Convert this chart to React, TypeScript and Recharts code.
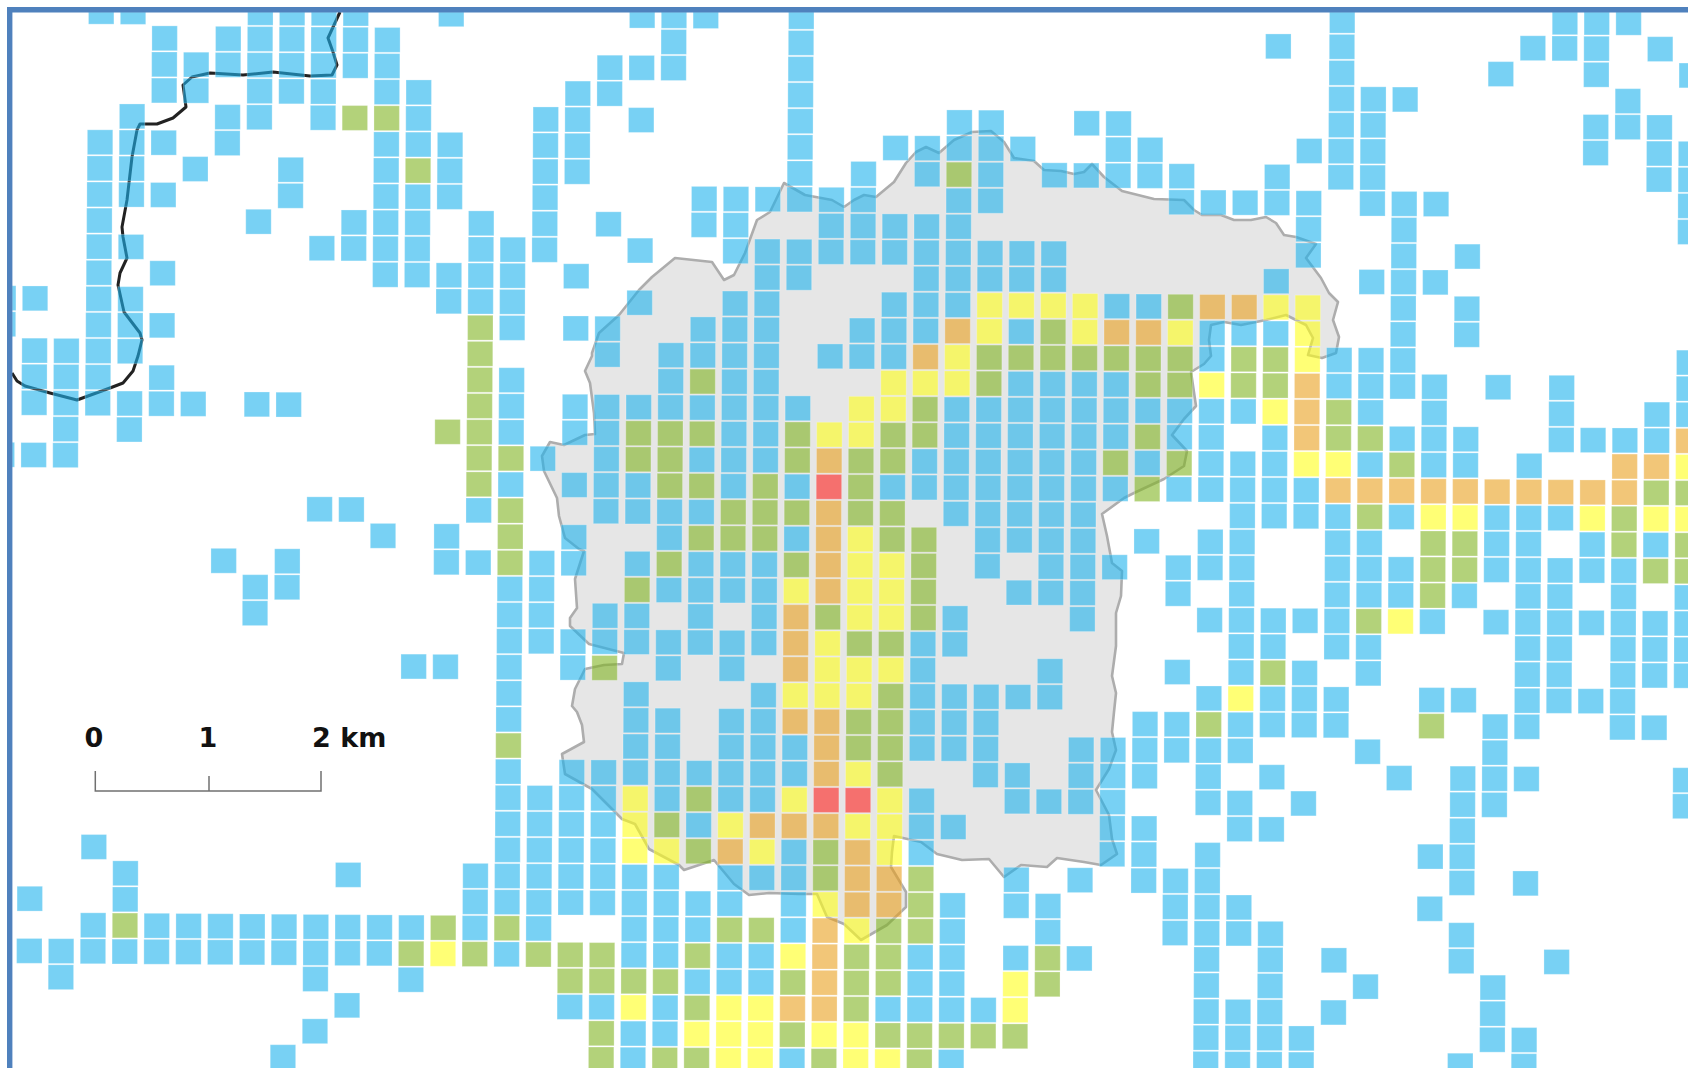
import { Scatter, ScatterChart, XAxis, YAxis } from "recharts";

// cells per level: [column, ...rows]
const blueCells = [
  [0, 11, 12, 17],
  [1, 11, 13, 14, 15, 17, 34, 36],
  [2, 13, 14, 15, 16, 17, 36, 37],
  [3, 0, 5, 6, 7, 8, 9, 10, 11, 12, 13, 14, 15, 32, 35, 36],
  [4, 0, 4, 5, 6, 7, 9, 11, 12, 13, 15, 16, 33, 34, 36],
  [5, 1, 2, 3, 5, 7, 10, 12, 14, 15, 35, 36],
  [6, 2, 3, 6, 15, 35, 36],
  [7, 1, 2, 4, 5, 21, 35, 36],
  [8, 0, 1, 2, 3, 4, 8, 15, 22, 23, 35, 36],
  [9, 0, 1, 2, 3, 6, 7, 15, 21, 22, 35, 36, 40],
  [10, 0, 1, 2, 3, 4, 9, 19, 35, 36, 37, 39],
  [11, 0, 1, 2, 8, 9, 19, 33, 35, 36, 38],
  [12, 1, 2, 3, 5, 6, 7, 8, 9, 10, 20, 35, 36],
  [13, 3, 4, 5, 7, 8, 9, 10, 25, 35, 37],
  [14, 0, 5, 6, 7, 10, 11, 20, 21, 25],
  [15, 8, 9, 10, 11, 19, 21, 33, 34, 35],
  [16, 9, 10, 11, 12, 14, 15, 16, 18, 22, 23, 24, 25, 26, 27, 29, 30, 31, 32, 33, 34, 36],
  [17, 4, 5, 6, 7, 8, 9, 17, 21, 22, 23, 24, 30, 31, 32, 33, 34, 35],
  [18, 3, 4, 5, 6, 10, 12, 15, 16, 18, 20, 21, 24, 25, 29, 30, 31, 32, 33, 34, 38],
  [19, 2, 3, 8, 12, 13, 15, 16, 17, 18, 19, 23, 24, 29, 30, 31, 32, 33, 34, 38],
  [20, 0, 2, 4, 9, 11, 15, 18, 19, 21, 23, 24, 26, 27, 28, 29, 33, 34, 35, 36, 39, 40],
  [21, 0, 1, 2, 13, 14, 15, 19, 20, 22, 24, 25, 27, 28, 29, 30, 33, 34, 35, 36, 38, 39],
  [22, 0, 7, 8, 12, 13, 15, 17, 19, 21, 22, 23, 24, 29, 31, 34, 35, 37],
  [23, 7, 8, 9, 11, 12, 13, 14, 15, 16, 17, 18, 21, 22, 24, 25, 27, 28, 29, 30, 33, 34, 36, 37],
  [24, 7, 9, 10, 11, 12, 13, 14, 15, 16, 17, 21, 22, 23, 24, 26, 27, 28, 29, 30, 33, 36, 37],
  [25, 0, 1, 2, 3, 4, 5, 6, 7, 9, 10, 15, 18, 20, 28, 29, 32, 33, 34, 35, 40],
  [26, 7, 8, 9, 13],
  [27, 6, 7, 8, 9, 12, 13],
  [28, 5, 8, 9, 11, 12, 13, 18, 38],
  [29, 5, 6, 8, 9, 10, 11, 12, 17, 18, 24, 25, 26, 27, 28, 30, 31, 32, 36, 37, 38],
  [30, 4, 5, 7, 8, 9, 10, 11, 15, 16, 17, 18, 19, 23, 24, 26, 27, 28, 31, 34, 35, 36, 37, 38, 40],
  [31, 4, 5, 6, 7, 9, 10, 15, 16, 17, 18, 19, 20, 21, 26, 27, 28, 29, 38],
  [32, 5, 9, 10, 12, 14, 15, 16, 17, 18, 19, 20, 22, 26, 29, 30, 33, 34, 36],
  [33, 6, 9, 10, 14, 15, 16, 17, 18, 19, 20, 21, 22, 25, 26, 30, 34, 35],
  [34, 4, 6, 14, 15, 16, 17, 18, 19, 20, 21, 22, 23, 28, 29, 30, 33, 36],
  [35, 4, 5, 6, 11, 14, 15, 16, 18, 21, 28, 29, 30, 31, 32],
  [36, 5, 6, 11, 15, 17, 20, 27, 28, 29, 31, 32, 33],
  [37, 6, 7, 15, 16, 18, 21, 22, 25, 27, 28, 33, 34, 35],
  [38, 7, 12, 13, 15, 16, 17, 18, 20, 21, 23, 26, 28, 29, 30, 32, 33, 34, 35, 36, 37, 38, 39, 40],
  [39, 7, 12, 15, 17, 18, 19, 20, 21, 22, 23, 24, 25, 27, 28, 30, 31, 34, 35, 38, 39, 40],
  [40, 1, 6, 7, 10, 12, 16, 17, 18, 19, 23, 24, 26, 27, 29, 31, 35, 36, 37, 38, 39, 40],
  [41, 5, 7, 8, 9, 18, 19, 23, 25, 26, 27, 30, 39, 40],
  [42, 0, 1, 2, 3, 4, 5, 6, 13, 14, 19, 20, 21, 22, 23, 24, 26, 27, 36, 38],
  [43, 3, 4, 5, 6, 7, 10, 13, 14, 15, 17, 20, 21, 22, 24, 25, 28, 37],
  [44, 3, 7, 8, 9, 10, 11, 12, 13, 14, 16, 19, 21, 22, 29],
  [45, 7, 10, 14, 15, 16, 17, 23, 26, 32, 34],
  [46, 9, 11, 12, 16, 17, 22, 26, 29, 30, 31, 32, 33, 35, 36, 40],
  [47, 2, 14, 19, 20, 21, 23, 27, 28, 29, 30, 37, 38, 39],
  [48, 1, 17, 19, 20, 21, 22, 23, 24, 25, 26, 27, 29, 33, 39, 40],
  [49, 0, 1, 14, 15, 16, 19, 21, 22, 23, 24, 25, 26, 36],
  [50, 0, 1, 2, 4, 5, 16, 20, 21, 23, 26],
  [51, 0, 3, 4, 16, 21, 22, 23, 24, 25, 26, 27],
  [52, 1, 4, 5, 6, 15, 16, 20, 23, 24, 25, 27],
  [53, 2, 5, 6, 7, 8, 13, 14, 15, 22, 23, 24, 25, 29, 30],
];

const greenCells = [
  [4, 35],
  [11, 4],
  [12, 4],
  [13, 6, 36],
  [14, 16, 35],
  [15, 12, 13, 14, 15, 16, 17, 18, 36],
  [16, 17, 19, 20, 21, 28, 35],
  [17, 36],
  [18, 36, 37],
  [19, 25, 36, 37, 39, 40],
  [20, 16, 17, 22, 37],
  [21, 16, 17, 18, 21, 31, 37, 40],
  [22, 14, 16, 18, 20, 30, 32, 36, 38, 40],
  [23, 19, 20, 35],
  [24, 18, 19, 20, 35],
  [25, 16, 17, 19, 21, 37, 39],
  [26, 23, 32, 33, 40],
  [27, 17, 18, 19, 24, 27, 28, 36, 37, 38],
  [28, 16, 17, 19, 20, 24, 26, 27, 28, 29, 35, 36, 37, 39],
  [29, 15, 16, 20, 21, 22, 23, 33, 34, 35, 39, 40],
  [30, 6, 39],
  [31, 13, 14, 39],
  [32, 13, 39],
  [33, 12, 13, 36, 37],
  [34, 13],
  [35, 13, 17],
  [36, 13, 14, 16, 18],
  [37, 11, 13, 14, 17],
  [38, 27],
  [39, 13, 14],
  [40, 13, 14, 25],
  [42, 15, 16],
  [43, 16, 19, 23],
  [44, 17],
  [45, 20, 21, 22, 27],
  [46, 20, 21],
  [51, 19, 20],
  [52, 18, 21],
  [53, 18, 20, 21],
];

const yellowCells = [
  [14, 36],
  [20, 30, 31, 32, 38],
  [21, 32],
  [22, 39],
  [23, 31, 38, 39, 40],
  [24, 32, 38, 39, 40],
  [25, 22, 26, 30, 36],
  [26, 16, 24, 25, 26, 34, 39],
  [27, 15, 16, 20, 21, 22, 23, 25, 26, 29, 31, 35, 39, 40],
  [28, 14, 15, 21, 22, 23, 25, 30, 31, 32, 40],
  [29, 14],
  [30, 13, 14],
  [31, 11, 12],
  [32, 11, 37, 38],
  [33, 11],
  [34, 11, 12],
  [37, 12],
  [38, 14],
  [39, 26],
  [40, 11, 15],
  [41, 11, 12, 13, 17],
  [42, 17],
  [44, 23],
  [45, 19],
  [46, 19],
  [50, 19],
  [52, 19],
  [53, 17, 19],
];

const orangeCells = [
  [23, 32],
  [24, 31],
  [25, 23, 24, 25, 27, 31, 38],
  [26, 17, 19, 20, 21, 22, 27, 28, 29, 31, 35, 36, 37, 38],
  [27, 32, 33, 34],
  [28, 33, 34],
  [29, 13],
  [30, 12],
  [35, 12],
  [36, 12],
  [38, 11],
  [39, 11],
  [41, 14, 15, 16],
  [42, 18],
  [43, 18],
  [44, 18],
  [45, 18],
  [46, 18],
  [47, 18],
  [48, 18],
  [49, 18],
  [50, 18],
  [51, 17, 18],
  [52, 17],
  [53, 16],
];

const redCells = [
  [26, 18, 30],
  [27, 30],
];

// district outline, picture pixels
const districtOutline = [
  [844, 207], [854, 200], [864, 195], [876, 197], [894, 182], [906, 163], [916, 152], [926, 147], [939, 153],
  [954, 140], [972, 132], [991, 131], [1004, 142], [1014, 158], [1034, 161], [1044, 170], [1061, 171], [1074, 174],
  [1084, 172], [1092, 164], [1104, 177], [1122, 191], [1154, 199], [1184, 200], [1194, 210], [1202, 215], [1221, 215],
  [1234, 220], [1251, 220], [1266, 217], [1276, 223], [1284, 235], [1296, 237], [1316, 244], [1306, 258], [1321, 278],
  [1329, 293], [1338, 302], [1333, 320], [1339, 337], [1336, 353], [1322, 358], [1308, 355], [1313, 338], [1306, 325],
  [1286, 315], [1266, 320], [1241, 325], [1224, 322], [1211, 325], [1209, 340], [1211, 356], [1204, 364], [1191, 372],
  [1196, 406], [1184, 419], [1172, 435], [1187, 451], [1184, 466], [1164, 479], [1134, 493], [1124, 498], [1102, 514],
  [1107, 536], [1112, 563], [1122, 571], [1121, 596], [1116, 613], [1116, 646], [1112, 676], [1116, 693], [1114, 712],
  [1112, 732], [1116, 750], [1109, 769], [1096, 790], [1109, 815], [1112, 839], [1117, 854], [1101, 865], [1084, 862],
  [1057, 858], [1047, 867], [1021, 865], [1004, 877], [989, 859], [962, 860], [937, 854], [921, 842], [894, 836],
  [892, 852], [891, 867], [906, 892], [906, 907], [887, 925], [861, 940], [844, 924], [827, 917], [817, 894], [799, 894],
  [769, 893], [749, 895], [734, 884], [714, 860], [684, 870], [679, 865], [649, 849], [635, 824], [622, 819], [592, 789],
  [565, 774], [562, 754], [584, 742], [582, 725], [577, 712], [572, 706], [575, 689], [585, 669], [604, 665], [622, 664],
  [624, 653], [589, 644], [570, 626], [570, 618], [577, 608], [575, 579], [584, 551], [579, 549], [565, 538], [559, 516],
  [557, 498], [544, 471], [542, 456], [550, 442], [564, 445], [585, 435], [595, 434], [594, 413], [590, 383], [585, 371],
  [592, 356], [592, 353], [599, 333], [619, 315], [639, 290], [652, 277], [675, 258], [712, 262], [724, 280], [734, 275],
  [745, 253], [757, 220], [770, 212], [784, 183], [805, 195], [832, 200], [844, 207],
];

const riverLine = [
  [340, 12], [328, 38], [333, 52], [337, 65], [332, 75], [310, 76], [273, 72], [243, 75], [210, 73], [192, 77], [183, 85],
  [186, 107], [173, 118], [157, 124], [140, 124], [137, 130], [132, 157], [127, 200], [122, 227], [123, 237], [127, 258],
  [120, 273], [118, 285], [124, 312], [140, 333], [142, 340], [138, 356], [133, 371], [123, 383], [110, 388], [77, 400],
  [50, 393], [25, 386], [17, 381], [12, 373],
];

const frameLine = [[9.7, 1068], [9.7, 9.7], [1688, 9.7]];
const scaleBar = [[95.3, 771], [95.3, 791], [321, 791], [321, 771]];
const scaleTick = [[209, 776], [209, 791]];
const scaleLabels = [
  { text: "0", x: 94, anchor: "middle" },
  { text: "1", x: 208, anchor: "middle" },
  { text: "2 km", x: 312, anchor: "start" },
];

// grid mesh is slightly rotated in the picture
const cellX = (col: number, row: number) => 3 + 31.82 * col - 0.23 * (row - 12);
const cellY = (col: number, row: number) => 12.2 + 26.1 * row + 0.23 * (col - 5);

const toCells = (list: number[][]) =>
  list.flatMap(([col, ...rows]) => rows.map((row) => ({ x: cellX(col, row), y: cellY(col, row) })));
const toPoints = (list: number[][]) => list.map(([x, y]) => ({ x, y }));

const CELL_W = 25.4;
const CELL_H = 24.8;
const FRAME_EDGE = 12;

function CellMark({ cx, cy, fill }: any) {
  const x = Math.max(cx - CELL_W / 2, FRAME_EDGE);
  const y = Math.max(cy - CELL_H / 2, FRAME_EDGE);
  const width = cx + CELL_W / 2 - x;
  const height = cy + CELL_H / 2 - y;
  if (width <= 0 || height <= 0) return null;
  return (
    <rect
      x={x}
      y={y}
      width={width}
      height={height}
      fill={fill}
      fillOpacity={0.6}
      stroke="#ffffff"
      strokeOpacity={0.25}
      strokeWidth={1}
    />
  );
}

const NoMark = () => null;

const levels = [
  { name: "blue", cells: blueCells, color: "#1eb2ed" },
  { name: "green", cells: greenCells, color: "#80b421" },
  { name: "yellow", cells: yellowCells, color: "#ffff19" },
  { name: "orange", cells: orangeCells, color: "#e9a01e" },
  { name: "red", cells: redCells, color: "#ff211e" },
];

export default function App() {
  return (
    <div style={{ position: "absolute", left: 0, top: 0, width: 1688, height: 1068, background: "#fff" }}>
      <ScatterChart width={1688} height={1068} margin={{ top: 0, right: 0, bottom: 0, left: 0 }}>
        <XAxis type="number" dataKey="x" domain={[0, 1688]} allowDataOverflow hide />
        <YAxis type="number" dataKey="y" domain={[0, 1068]} reversed allowDataOverflow hide width={0} />
        <Scatter
          data={toPoints(districtOutline)}
          line={{ fill: "#e6e6e6", stroke: "#adadad", strokeWidth: 2.6, strokeLinejoin: "round" }}
          shape={NoMark}
          isAnimationActive={false}
        />
        <Scatter
          data={toPoints(riverLine)}
          line={{ stroke: "#222222", strokeWidth: 3, strokeLinejoin: "round" }}
          shape={NoMark}
          isAnimationActive={false}
        />
        {levels.map((level) => (
          <Scatter
            key={level.name}
            name={level.name}
            data={toCells(level.cells)}
            fill={level.color}
            shape={CellMark}
            isAnimationActive={false}
          />
        ))}
        <Scatter
          data={toPoints(frameLine)}
          line={{ stroke: "#4f81bd", strokeWidth: 5.4 }}
          shape={NoMark}
          isAnimationActive={false}
        />
        <Scatter
          data={toPoints(scaleBar)}
          line={{ stroke: "#707070", strokeWidth: 1.5 }}
          shape={NoMark}
          isAnimationActive={false}
        />
        <Scatter
          data={toPoints(scaleTick)}
          line={{ stroke: "#707070", strokeWidth: 1.5 }}
          shape={NoMark}
          isAnimationActive={false}
        />
        {scaleLabels.map((label) => (
          <text
            key={label.text}
            x={label.x}
            y={747}
            textAnchor={label.anchor}
            fontFamily="DejaVu Sans"
            fontWeight="bold"
            fontSize={27}
            fill="#111111"
          >
            {label.text}
          </text>
        ))}
      </ScatterChart>
    </div>
  );
}
